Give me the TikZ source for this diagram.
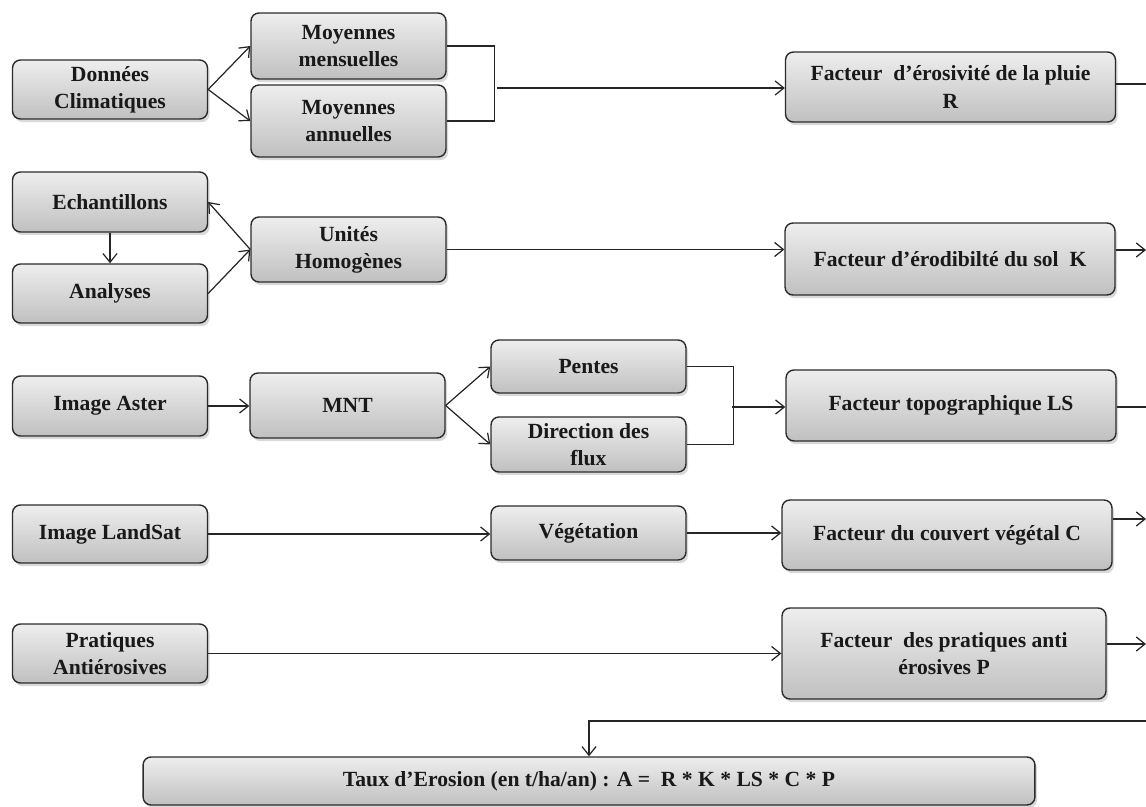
\documentclass[tikz,border=0pt]{standalone}
\usepackage{fontspec}
\setmainfont{Liberation Serif}
\usepackage{xcolor}
\usetikzlibrary{shapes,arrows,arrows.meta,positioning,calc,shadows}

\definecolor{boxtop}{HTML}{EEEEEE}
\definecolor{boxbot}{HTML}{C0C0C0}
\definecolor{boxline}{HTML}{2B2B2B}

\begin{document}
\begin{tikzpicture}[x=0.02cm, y=-0.02cm,
  node distance=1.5cm,
  >={Straight Barb[length=5pt,width=8pt]},
  box/.style={rectangle, rounded corners=4.5pt, draw=boxline, line width=0.8pt,
    top color=boxtop, bottom color=boxbot, align=center, inner sep=2pt,
    font=\fontsize{12.3}{15.5}\selectfont\bfseries, text=black!90,
    drop shadow={shadow xshift=1.2pt, shadow yshift=-1.8pt, opacity=0.3},
    minimum width=3.9cm},
  factbox/.style={box, minimum width=6.6cm},
  link/.style={line width=0.7pt, draw=black!85}]
\useasboundingbox (0,0) rectangle (1146,807);

% donnees climatiques
\node[box, minimum height=1.18cm] (don) at (110,89.5) {Données\\Climatiques};
\node[box, minimum height=1.32cm] (mens) at (348.5,46) {Moyennes\\mensuelles};
\node[box, minimum height=1.44cm] (ann) at (348.5,121) {Moyennes\\annuelles};
\node[factbox, minimum height=1.4cm] (R) at (950.5,87) {Facteur\ \ d’érosivité de la pluie\\R};

% sol
\node[box, minimum height=1.2cm] (ech) at (110,202) {Echantillons};
\node[box, minimum height=1.18cm, below of=ech, node distance=1.83cm] (ana) {Analyses};
\node[box, minimum height=1.3cm] (uni) at (348.5,249.5) {Unités\\Homogènes};
\node[factbox, minimum height=1.44cm] (K) at (950,259) {Facteur d’érodibilté du sol\ \ K};

% topographie
\node[box, minimum height=1.2cm] (ast) at (110,406) {Image Aster};
\node[box, minimum height=1.3cm] (mnt) at (347.5,405.5) {MNT};
\node[box, minimum height=1.06cm] (pen) at (588.5,366.5) {Pentes};
\node[box, minimum height=1.1cm, below of=pen, node distance=1.56cm] (dir) {Direction des\\flux};
\node[factbox, minimum height=1.42cm] (LS) at (951,405.5) {Facteur topographique LS};

% vegetation
\node[box, minimum height=1.16cm] (lds) at (110,534) {Image LandSat};
\node[box, minimum height=1.08cm] (veg) at (588.5,533) {Végétation};
\node[factbox, minimum height=1.4cm] (C) at (947,535) {Facteur du couvert végétal C};

% pratiques
\node[box, minimum height=1.18cm] (pra) at (110,653.5) {Pratiques\\Antiérosives};
\node[factbox, minimum width=6.48cm, minimum height=1.82cm] (P) at (944,653.5) {Facteur\ \ des pratiques anti\\érosives P};

\node[box, minimum width=17.84cm, minimum height=0.96cm] (taux) at (589,781) {Taux d’Erosion (en t/ha/an) : A =\ \ R * K * LS * C * P};

% bords droits
\coordinate (oR) at (1146,84);
\coordinate (oK) at (1146,250);
\coordinate (oLS) at (1146,407);
\coordinate (oC) at (1146,519);
\coordinate (oP) at (1146,644);
\coordinate (oT) at (1146,721);
\coordinate (j1) at (497,88);
\coordinate (j2) at (732,407);

\draw[link,->] (don.east) -- (mens.west);
\draw[link,->] (don.east) -- (ann.west);
\draw[link] (mens.east) -- ++(48,0) |- (ann.east);
\draw[link,->] (j1) -- (j1 -| R.west);
\draw[link] (oR -| R.east) -- (oR);

\draw[link,->] (uni.west) -- (ech.east);
\draw[link,->] (ana.east) -- (uni.west);
\draw[link,->] (ech) -- (ana);
\draw[link,->] (uni.east) -- (uni.east -| K.west);
\draw[link,->] (oK -| K.east) -- (oK);

\draw[link,->] (ast.east) -- (ast.east -| mnt.west);
\draw[link,->] (mnt.east) -- (pen.west);
\draw[link,->] (mnt.east) -- (dir.west);
\draw[link] (pen.east) -- ++(47,0) |- (dir.east);
\draw[link,->] (j2) -- (j2 -| LS.west);
\draw[link] (oLS -| LS.east) -- (oLS);

\draw[link,->] (lds.east) -- (lds.east -| veg.west);
\draw[link,->] (veg.east) -- (veg.east -| C.west);
\draw[link,->] (oC -| C.east) -- (oC);

\draw[link,->] (pra.east) -- (pra.east -| P.west);
\draw[link,->] (oP -| P.east) -- (oP);
\draw[link,->] (oT) -| (taux.north);
\end{tikzpicture}
\end{document}
